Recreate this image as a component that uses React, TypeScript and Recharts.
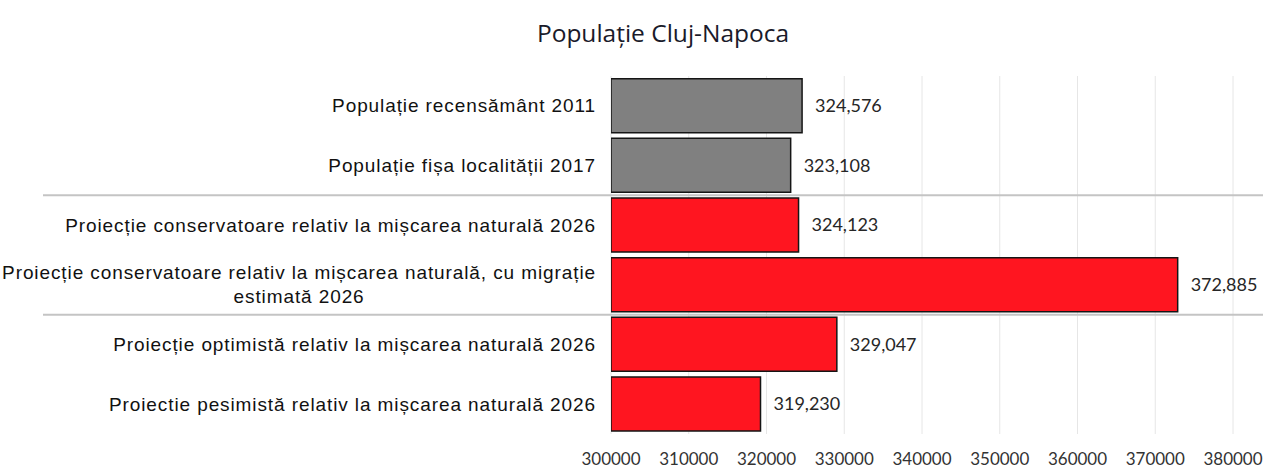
import React from 'react';
import { BarChart, Bar, XAxis, YAxis, CartesianGrid, Cell, LabelList } from 'recharts';

// ---------- data ----------
const categories: string[] = [
  'Populație recensământ 2011',
  'Populație fișa localității 2017',
  'Proiecție conservatoare relativ la mișcarea naturală 2026',
  'Proiecție conservatoare relativ la mișcarea naturală, cu migrație estimată 2026',
  'Proiecție optimistă relativ la mișcarea naturală 2026',
  'Proiectie pesimistă relativ la mișcarea naturală 2026',
];
const populationValues: number[] = [324576, 323108, 324123, 372885, 329047, 319230];
const seriesKind: string[] = ['census', 'census', 'projection', 'projection', 'projection', 'projection'];
const xTicks: number[] = [300000, 310000, 320000, 330000, 340000, 350000, 360000, 370000, 380000];
const groupEndIndices: number[] = [1, 3];
const chartTitle = 'Populație Cluj-Napoca';

// ---------- styles / layout ----------
const W = 1263;
const H = 468;
const MARGIN = { top: 76, right: 30, bottom: 0, left: 0 };
const XAXIS_H = 34;
const YAXIS_W = 611;
const BAND = (H - MARGIN.top - MARGIN.bottom - XAXIS_H) / categories.length;
const kindColor: Record<string, string> = { census: '#808080', projection: '#ff1520' };
const CAT_FONT_FAMILY = '"Liberation Sans", Arial, sans-serif';
const CAT_FONT_SIZE = 19;
const CAT_LETTER_SPACING = 0.9;
const CAT_FONT = `${CAT_FONT_SIZE}px "Liberation Sans"`;

const data = categories.map((name, i) => ({ name, value: populationValues[i], kind: seriesKind[i] }));

let measureCtx: CanvasRenderingContext2D | null = null;
function measure(text: string): number {
  if (!measureCtx) measureCtx = document.createElement('canvas').getContext('2d');
  const base = measureCtx ? ((measureCtx.font = CAT_FONT), measureCtx.measureText(text).width) : text.length * CAT_FONT_SIZE * 0.5;
  return base + text.length * CAT_LETTER_SPACING;
}

function wrap(text: string, maxW: number): string[] {
  const words = text.split(' ');
  const lines: string[] = [];
  let cur = '';
  for (const w of words) {
    const next = cur ? cur + ' ' + w : w;
    if (cur && measure(next) > maxW) {
      lines.push(cur);
      cur = w;
    } else {
      cur = next;
    }
  }
  if (cur) lines.push(cur);
  return lines;
}

function CategoryTick(props: any) {
  const { x, y, payload } = props;
  const idx = categories.indexOf(payload.value);
  const lines = wrap(String(payload.value), 600);
  const widths = lines.map((l) => measure(l));
  const blockW = Math.max(...widths);
  const lineH = 24;
  const startY = y - ((lines.length - 1) * lineH) / 2;
  return (
    <g>
      {lines.map((l, i) => (
        <text
          key={i}
          x={x - blockW / 2}
          y={startY + i * lineH}
          textAnchor="middle"
          dominantBaseline="central"
          fontFamily={CAT_FONT_FAMILY}
          fontSize={CAT_FONT_SIZE}
          letterSpacing={CAT_LETTER_SPACING}
          fill="#111"
        >
          {l}
        </text>
      ))}
      {groupEndIndices.includes(idx) && (
        <line x1={43} x2={W} y1={y + BAND / 2} y2={y + BAND / 2} stroke="#c4c4c4" strokeWidth={2} />
      )}
    </g>
  );
}

const fmt = (v: any) => Number(v).toLocaleString('en-US');

export default function App() {
  return (
    <div style={{ position: 'absolute', left: 0, top: 0, width: W, height: H, background: '#fff' }}>
      <div
        style={{
          position: 'absolute',
          left: 463,
          width: 400,
          top: 17,
          textAlign: 'center',
          fontFamily: '"Open Sans", sans-serif',
          fontSize: 24.5,
          lineHeight: '32px',
          color: '#1a1a2a',
        }}
      >
        {chartTitle}
      </div>
      <BarChart
        width={W}
        height={H}
        data={data}
        layout="vertical"
        margin={MARGIN}
        barCategoryGap="4.4%"
      >
        <CartesianGrid horizontal={false} stroke="#e6e6e6" strokeWidth={1} />
        <XAxis
          type="number"
          domain={[300000, 380000]}
          ticks={xTicks}
          allowDataOverflow
          interval={0}
          axisLine={false}
          tickLine={false}
          tickSize={0}
          tickMargin={19}
          height={XAXIS_H}
          tick={{ fontFamily: 'Lato, sans-serif', fontSize: 17, fill: '#333' }}
        />
        <YAxis
          type="category"
          dataKey="name"
          width={YAXIS_W}
          axisLine={false}
          tickLine={false}
          tickSize={0}
          tickMargin={15}
          interval={0}
          tick={<CategoryTick />}
        />
        <Bar dataKey="value" stroke="#151515" strokeWidth={1.5} isAnimationActive={false}>
          {data.map((d, i) => (
            <Cell key={i} fill={kindColor[d.kind]} />
          ))}
          <LabelList
            dataKey="value"
            position="right"
            offset={13}
            formatter={fmt}
            style={{ fontFamily: 'Lato, sans-serif', fontSize: 18, fill: '#262626' }}
          />
        </Bar>
      </BarChart>
    </div>
  );
}
